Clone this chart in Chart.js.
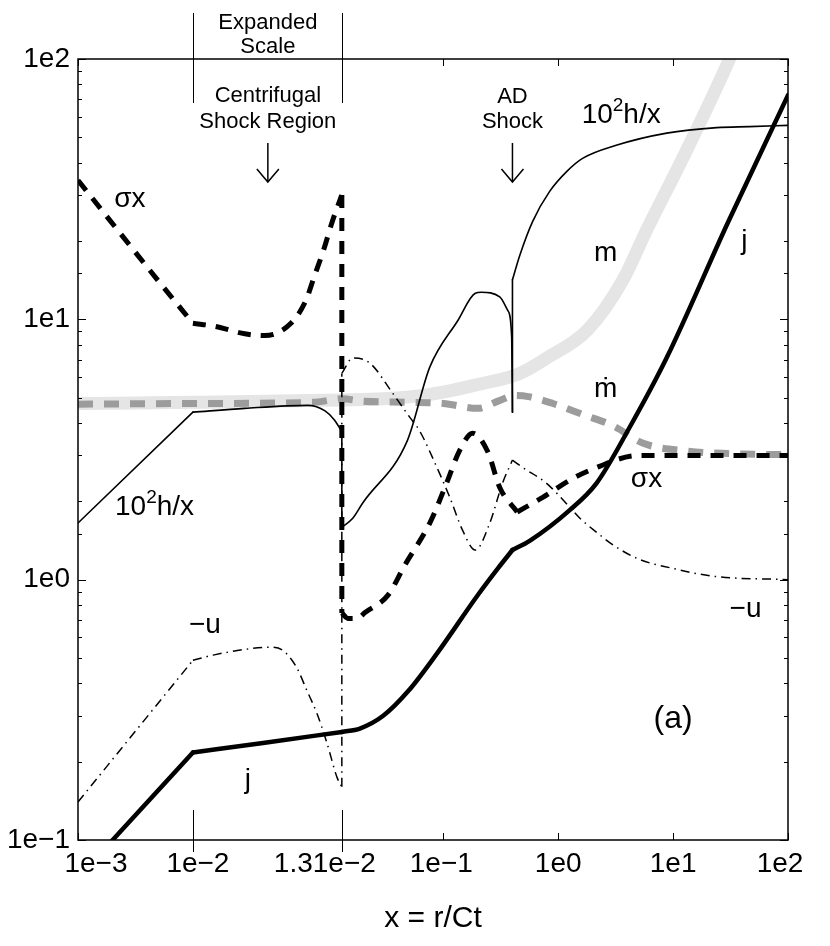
<!DOCTYPE html>
<html>
<head>
<meta charset="utf-8">
<title>Collapse profiles (a)</title>
<script src="https://cdn.jsdelivr.net/npm/chart.js@4/dist/chart.umd.min.js"></script>
<style>
    html, body { margin: 0; padding: 0; background: #fff; }
    canvas { display: block; }
</style>
</head>
<body>
<canvas id="profileChart" width="830" height="946"></canvas>
<script>
// ====================================
// PROFILES vs x = r/Ct  (panel a)
// ====================================

// ---- Axis ticks ----
const xTickValues = [1e-3, 1e-2, 1.31e-2, 1e-1, 1e0, 1e1, 1e2];
const xTickLabels = ['1e\u22123', '1e\u22122', '1.31e\u22122', '1e\u22121', '1e0', '1e1', '1e2'];
const yTickValues = [1e-1, 1e0, 1e1, 1e2];
const yTickLabels = ['1e\u22121', '1e0', '1e1', '1e2'];

// ---- j ----
const jX = [0.0018, 0.01, 0.01146, 0.0131, 0.0188, 0.03, 0.05, 0.088, 0.2, 0.3, 0.4, 0.565, 1.26, 2.16, 4.19, 8.77, 29.8, 100];
const jY = [0.095, 0.217, 0.236, 0.26, 0.268, 0.30, 0.375, 0.52, 0.873, 1.107, 1.30, 1.41, 1.85, 2.35, 3.85, 7.1, 23.4, 72.6];

// ---- sigma x ----
const sigX = [0.001, 0.00497, 0.01, 0.01046, 0.01108, 0.0115, 0.01204, 0.01235, 0.01252, 0.01273, 0.01289, 0.01306, 0.0131,
              0.0131, 0.0148, 0.0178, 0.021, 0.0329, 0.0464, 0.0763, 0.107, 0.139, 0.18, 0.244, 0.31, 0.44, 0.734, 1.26, 1.88, 5.1, 100];
const sigY = [34.2, 14.1, 9.66, 9.4, 8.8, 8.66, 9.66, 11.8, 14.5, 18.7, 23.4, 28.7, 30,
              0.745, 0.71, 0.71, 0.75, 0.87, 1.14, 1.65, 2.35, 3.14, 3.65, 3.1, 2.26, 1.82, 2.07, 2.41, 2.63, 3.0, 3.0];

// ---- -u ----
const uX = [0.001, 0.01, 0.01042, 0.01112, 0.0116, 0.01187, 0.01216, 0.01237, 0.01258, 0.01279, 0.013, 0.0131,
            0.0131, 0.0163, 0.0229, 0.0363, 0.0512, 0.0618, 0.088, 0.114, 0.147, 0.19, 0.254, 0.328, 0.4,
            0.489, 0.787, 1.26, 1.53, 2.16, 3.0, 5, 9.5, 22.7, 100];
const uY = [0.14, 0.49, 0.513, 0.541, 0.55, 0.535, 0.46, 0.376, 0.307, 0.236, 0.174, 0.16,
            6.2, 7.1, 6.8, 5.2, 4.2, 3.75, 2.7, 2.07, 1.55, 1.30, 1.65, 2.35, 2.88,
            2.7, 2.35, 1.9, 1.73, 1.52, 1.36, 1.2, 1.11, 1.03, 1.0];

// ---- 10^2 h/x ----
const hX = [0.001, 0.01, 0.01108, 0.01239, 0.01275, 0.01295, 0.0131,
            0.0131, 0.0163, 0.0199, 0.0488, 0.0763, 0.134, 0.19, 0.214, 0.31, 0.365, 0.394, 0.4,
            0.4, 0.463, 0.60, 0.843, 1.19, 1.63, 3.2, 8.8, 24, 46, 100];
const hY = [1.65, 4.4, 4.55, 4.67, 4.45, 4.1, 3.7,
            1.59, 1.72, 1.97, 3.43, 6.55, 9.9, 12.6, 12.7, 12.2, 10.8, 8.5, 4.4,
            14.2, 17.6, 23.8, 31, 37, 41.5, 46.6, 51.9, 54.5, 55, 55.6];

// ---- m ----
const mX = [0.001, 0.01, 0.0131, 0.03, 0.0768, 0.212, 0.463, 0.795, 1.80, 3.64, 5.88, 12.1, 31, 45];
const mY = [4.75, 4.8, 4.9, 4.95, 5.15, 5.65, 6.2, 7.1, 9.1, 14.1, 22, 41.5, 100, 150];

// ---- m dot ----
const mdX = [0.001, 0.01, 0.0125, 0.0131, 0.02, 0.05, 0.1, 0.2, 0.3, 0.42, 0.55, 0.9, 1.66, 3.0, 5.5, 13, 30, 100];
const mdY = [4.72, 4.75, 4.8, 4.95, 4.85, 4.8, 4.75, 4.55, 4.85, 5.1, 5.05, 4.75, 4.3, 3.9, 3.34, 3.12, 3.05, 3.02];

// ---- Kinks and shocks (curves are smooth between these x) ----
const jKinks = [0.01, 0.0131, 0.4];
const sigKinks = [0.01, 0.0131, 0.44];
const uKinks = [0.01, 0.0131, 0.4];
const hKinks = [0.01, 0.0131, 0.4];

// ---- Expanded interval on the x axis ----
const X_LO = 0.01;
const X_HI = 0.0131;
const X_EXPAND = 1.296;   // width of [X_LO, X_HI] measured in decades
const xLabelNudge = [18, 5, -17, -2, 0, 0, -8];

const FONT = '"Liberation Sans", Arial, Helvetica, sans-serif';

function toDecades(v) {
    if (v <= X_LO) return Math.log10(v);
    if (v <= X_HI) return Math.log10(X_LO) + X_EXPAND * (v - X_LO) / (X_HI - X_LO);
    return Math.log10(X_LO) + X_EXPAND + Math.log10(v / X_HI);
}

function fromDecades(d) {
    const d0 = Math.log10(X_LO);
    if (d <= d0) return Math.pow(10, d);
    if (d <= d0 + X_EXPAND) return X_LO + (d - d0) / X_EXPAND * (X_HI - X_LO);
    return X_HI * Math.pow(10, d - d0 - X_EXPAND);
}

// log axis with a linearly stretched piece between X_LO and X_HI
class BrokenLogScale extends Chart.Scale {
    static id = 'brokenLog';
    static defaults = {};

    determineDataLimits() {
        this.min = this.options.min;
        this.max = this.options.max;
    }

    buildTicks() {
        return xTickValues.map(v => ({ value: v }));
    }

    configure() {
        super.configure();
        this._d0 = toDecades(this.min);
        this._dSpan = toDecades(this.max) - this._d0;
    }

    getPixelForValue(value) {
        return this.getPixelForDecimal((toDecades(value) - this._d0) / this._dSpan);
    }

    getValueForPixel(pixel) {
        return fromDecades(this._d0 + this.getDecimalForPixel(pixel) * this._dSpan);
    }

    getPixelForTick(index) {
        return this.getPixelForValue(this.ticks[index].value) + (xLabelNudge[index] || 0);
    }
}
Chart.register(BrokenLogScale);

// split a series at its kinks so each smooth piece gets its own spline;
// a jump (two points at the same x) becomes its own straight piece
function splitAt(xs, ys, kinks) {
    const pieces = [];
    let cur = [];
    xs.forEach((x, i) => {
        const p = { x: x, y: ys[i] };
        cur.push(p);
        if (kinks.includes(x) && cur.length > 1) {
            pieces.push(cur);
            cur = [p];
        }
    });
    if (cur.length > 1) pieces.push(cur);
    return pieces;
}

function seriesDatasets(label, xs, ys, kinks, style) {
    return splitAt(xs, ys, kinks).map(piece => {
        const vertical = piece.length === 2 && piece[0].x === piece[1].x;
        return Object.assign({
            label: label,
            data: piece,
            pointRadius: 0,
            fill: false,
            clip: 0,
            borderJoinStyle: 'round',
            borderCapStyle: 'butt',
            tension: 0,
            cubicInterpolationMode: vertical || piece.length < 3 ? 'default' : 'monotone'
        }, style);
    });
}

function isDecade(v) {
    const l = Math.log10(v);
    return Math.abs(l - Math.round(l)) < 1e-6;
}

// ---- Text labels ----
const plotLabels = [
    { text: '\u03c3x', x: 2.83e-3, y: 26.9 },
    { text: '\u03c3x', x: 5.87, y: 2.265 },
    { text: '\u2212u', x: 0.01025, y: 0.622 },
    { text: '\u2212u', x: 42.7, y: 0.718 },
    { text: 'j', x: 0.011144, y: 0.158 },
    { text: 'j', x: 41.8, y: 18.7 },
    { text: 'm', x: 2.59, y: 16.7 },
    { text: '\u1e41', x: 2.59, y: 5.01 },
    { text: '(a)', x: 10, y: 0.269, size: 32 },
    { text: '10^2h/x', x: 2.10e-3, y: 1.77, align: 'left' },
    { text: '10^2h/x', x: 1.60, y: 56.6, align: 'left' }
];

// notes above the plot: x in data units, dy in pixels from the top of the plot
const topNotes = [
    { text: 'Expanded', x: 0.01156, dy: -30 },
    { text: 'Scale', x: 0.01156, dy: -6 },
    { text: 'Centrifugal', x: 0.01156, dy: 43 },
    { text: 'Shock Region', x: 0.01156, dy: 69 },
    { text: 'AD', x: 0.4, dy: 44 },
    { text: 'Shock', x: 0.4, dy: 69 }
];
const arrowXs = [0.01156, 0.4];

function drawRich(ctx, text, px, py, size, align) {
    const parts = text.split('^');
    const segs = [{ t: parts[0], s: size, dy: 0 }];
    if (parts.length > 1) {
        segs.push({ t: parts[1].charAt(0), s: Math.round(size * 0.68), dy: -12 });
        segs.push({ t: parts[1].slice(1), s: size, dy: 0 });
    }
    let width = 0;
    segs.forEach(sg => { ctx.font = sg.s + 'px ' + FONT; sg.w = ctx.measureText(sg.t).width; width += sg.w; });
    let cx = align === 'left' ? px : px - width / 2;
    ctx.textAlign = 'left';
    ctx.textBaseline = 'alphabetic';
    segs.forEach(sg => {
        ctx.font = sg.s + 'px ' + FONT;
        ctx.fillText(sg.t, cx, py + sg.dy);
        cx += sg.w;
    });
}

function line(ctx, x1, y1, x2, y2) {
    ctx.beginPath();
    ctx.moveTo(x1, y1);
    ctx.lineTo(x2, y2);
    ctx.stroke();
}

const decorations = {
    id: 'decorations',
    afterDatasetsDraw(chart) {
        const { ctx, chartArea: a, scales: { x, y } } = chart;
        ctx.save();
        ctx.strokeStyle = '#000';
        ctx.fillStyle = '#000';

        // y ticks, inward on both sides
        ctx.lineWidth = 1;
        y.ticks.forEach(t => {
            if (t.value < y.min || t.value > y.max) return;
            const py = Math.round(y.getPixelForValue(t.value)) + 0.5;
            const len = isDecade(t.value) ? 8 : 4;
            line(ctx, a.left, py, a.left + len, py);
            line(ctx, a.right, py, a.right - len, py);
        });

        // x ticks, inward top and bottom
        xTickValues.forEach(v => {
            const px = Math.round(x.getPixelForValue(v)) + 0.5;
            line(ctx, px, a.bottom, px, a.bottom - 7);
            line(ctx, px, a.top, px, a.top + 7);
        });

        // brackets of the expanded interval
        [X_LO, X_HI].forEach(v => {
            const px = Math.round(x.getPixelForValue(v)) + 0.5;
            line(ctx, px, a.top - 46, px, a.top + 44);
            line(ctx, px, a.bottom - 30, px, a.bottom + 12);
        });

        // frame
        ctx.lineWidth = 1.5;
        ctx.strokeRect(a.left, a.top, a.right - a.left, a.bottom - a.top);

        // notes and arrows
        ctx.textAlign = 'center';
        ctx.textBaseline = 'alphabetic';
        ctx.font = '22px ' + FONT;
        topNotes.forEach(n => {
            ctx.fillText(n.text, x.getPixelForValue(n.x), a.top + n.dy);
        });
        ctx.lineWidth = 1.5;
        arrowXs.forEach(v => {
            const px = x.getPixelForValue(v);
            const y0 = a.top + 84, y1 = a.top + 123;
            line(ctx, px, y0, px, y1);
            ctx.beginPath();
            ctx.moveTo(px - 11, y1 - 13);
            ctx.lineTo(px, y1);
            ctx.lineTo(px + 11, y1 - 13);
            ctx.stroke();
        });

        // curve labels
        plotLabels.forEach(l => {
            drawRich(ctx, l.text, x.getPixelForValue(l.x), y.getPixelForValue(l.y), l.size || 28, l.align);
        });

        ctx.restore();
    }
};

// ---- Chart ----
function initProfileChart() {
    const ctx = document.getElementById('profileChart');
    Chart.defaults.font.family = FONT;
    Chart.defaults.font.size = 28;
    Chart.defaults.color = '#000';

    const datasets = [].concat(
        seriesDatasets('j', jX, jY, jKinks,
            { borderColor: '#000', borderWidth: 4.5, borderCapStyle: 'round', order: 1 }),
        seriesDatasets('σx', sigX, sigY, sigKinks,
            { borderColor: '#000', borderWidth: 5, borderDash: [13, 10], order: 2 }),
        seriesDatasets('−u', uX, uY, uKinks,
            { borderColor: '#000', borderWidth: 1.5, borderDash: [9, 5, 1.5, 5], order: 3 }),
        seriesDatasets('10²h/x', hX, hY, hKinks,
            { borderColor: '#000', borderWidth: 1.6, borderCapStyle: 'round', order: 4 }),
        seriesDatasets('ṁ', mdX, mdY, [],
            { borderColor: '#9c9c9c', borderWidth: 7, borderDash: [15, 11], order: 5 }),
        seriesDatasets('m', mX, mY, [],
            { borderColor: '#e5e5e5', borderWidth: 13, order: 6 })
    );

    new Chart(ctx, {
        type: 'line',
        data: { datasets: datasets },
        options: {
            responsive: false,
            animation: false,
            events: [],
            layout: { padding: { left: 0, right: 42, top: 59, bottom: 0 } },
            plugins: {
                legend: { display: false },
                tooltip: { enabled: false }
            },
            scales: {
                x: {
                    type: 'brokenLog',
                    position: 'bottom',
                    min: 1e-3,
                    max: 1e2,
                    afterFit: s => { s.height = 106; },
                    grid: { display: false, drawTicks: false },
                    border: { display: false },
                    ticks: {
                        autoSkip: false,
                        maxRotation: 0,
                        minRotation: 0,
                        padding: 7,
                        callback: (v, i) => xTickLabels[i]
                    },
                    title: {
                        display: true,
                        text: 'x = r/Ct',
                        font: { size: 30 },
                        padding: { top: 0, bottom: 9 }
                    }
                },
                y: {
                    type: 'logarithmic',
                    position: 'left',
                    min: 0.1,
                    max: 100,
                    afterFit: s => { s.width = 78; },
                    grid: { display: false, drawTicks: false },
                    border: { display: false },
                    ticks: {
                        autoSkip: false,
                        padding: 8,
                        callback: v => {
                            const k = yTickValues.findIndex(t => Math.abs(t - v) / t < 1e-6);
                            return k >= 0 ? yTickLabels[k] : '';
                        }
                    }
                }
            }
        },
        plugins: [decorations]
    });
}

initProfileChart();
</script>
</body>
</html>
